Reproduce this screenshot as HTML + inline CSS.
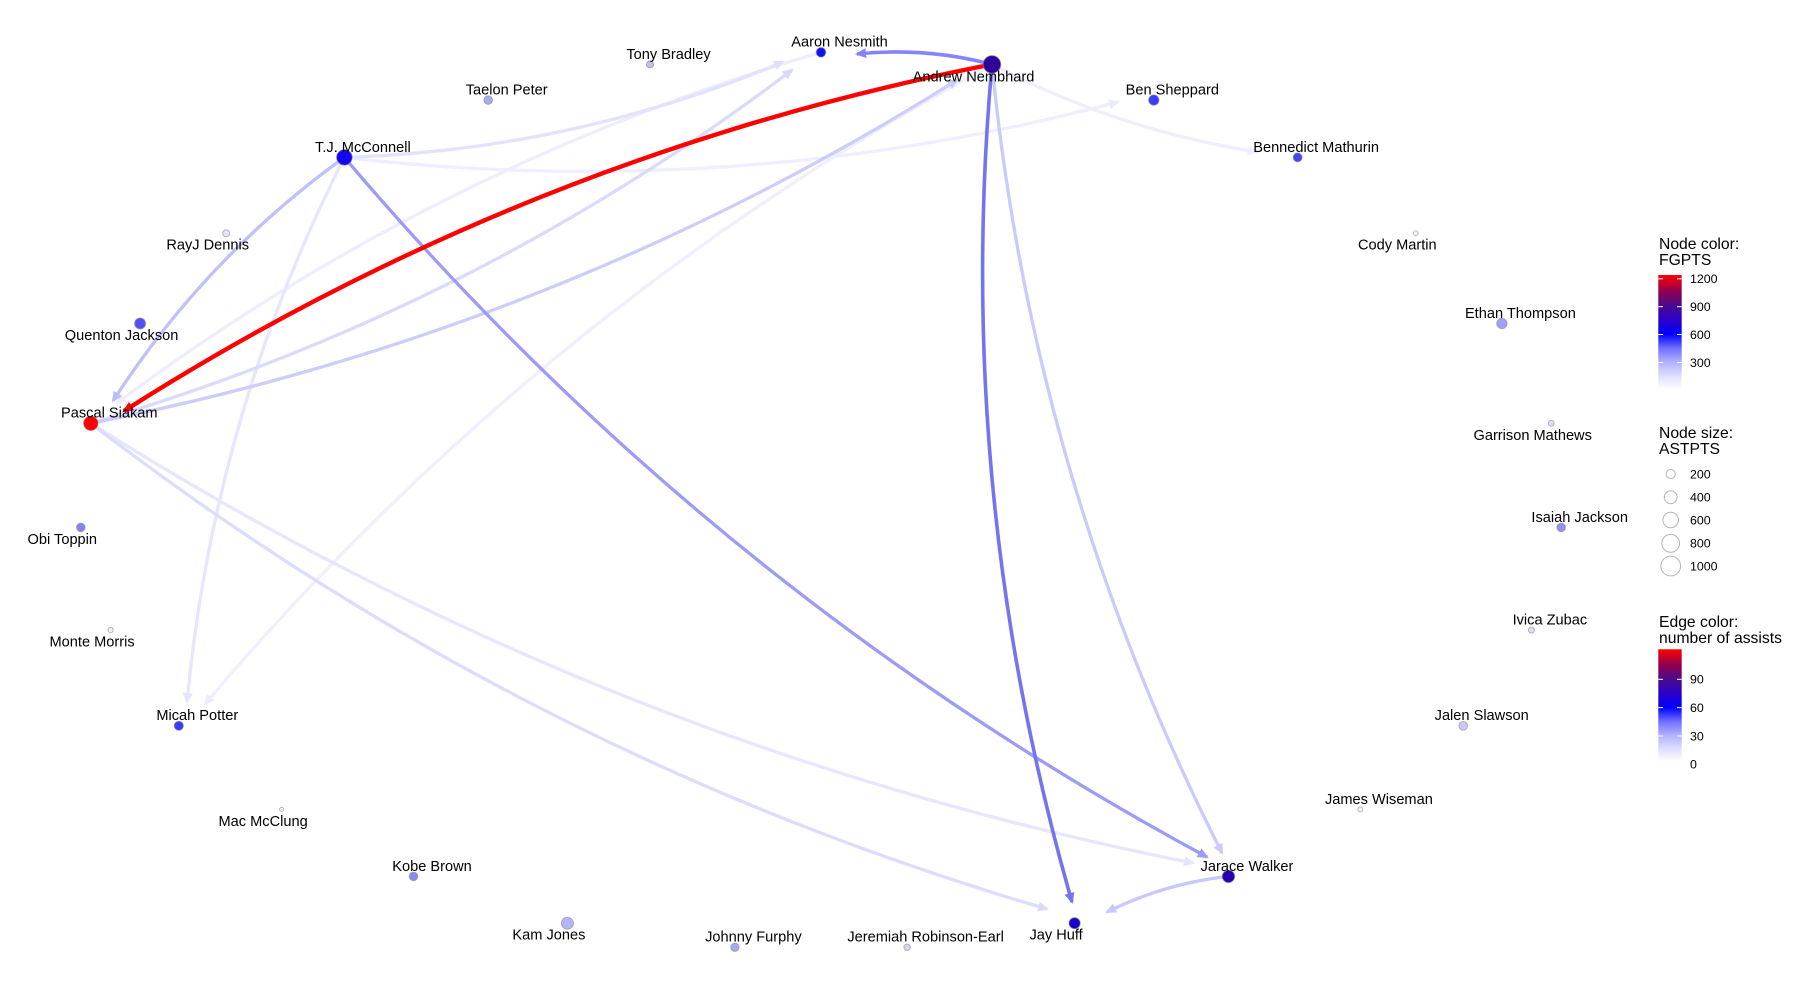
<!DOCTYPE html>
<html><head><meta charset="utf-8"><style>
html,body{margin:0;padding:0;background:#fff;}
svg{display:block;}
text{font-family:"Liberation Sans",Arial,sans-serif;fill:#000;}
.lb{font-size:14.6px;text-anchor:middle;}
.lt{font-size:15.7px;}
.tk{font-size:12.4px;}
</style></head><body>
<svg width="1800" height="1000" viewBox="0 0 1800 1000" xmlns="http://www.w3.org/2000/svg">
<rect x="0" y="0" width="1800" height="1000" fill="#fff"/>
<defs>
<marker id="a1" viewBox="0 0 11 10" refX="9" refY="5" markerWidth="11" markerHeight="10" markerUnits="userSpaceOnUse" orient="auto"><path d="M0,0 L11,5 L0,10 z" fill="#8484ff"/></marker>
<marker id="a2" viewBox="0 0 11 10" refX="9" refY="5" markerWidth="11" markerHeight="10" markerUnits="userSpaceOnUse" orient="auto"><path d="M0,0 L11,5 L0,10 z" fill="#ff0000"/></marker>
<marker id="a3" viewBox="0 0 11 10" refX="9" refY="5" markerWidth="11" markerHeight="10" markerUnits="userSpaceOnUse" orient="auto"><path d="M0,0 L11,5 L0,10 z" fill="#7474f0"/></marker>
<marker id="a4" viewBox="0 0 11 10" refX="9" refY="5" markerWidth="11" markerHeight="10" markerUnits="userSpaceOnUse" orient="auto"><path d="M0,0 L11,5 L0,10 z" fill="#cacafc"/></marker>
<marker id="a5" viewBox="0 0 11 10" refX="9" refY="5" markerWidth="11" markerHeight="10" markerUnits="userSpaceOnUse" orient="auto"><path d="M0,0 L11,5 L0,10 z" fill="#eeeefe"/></marker>
<marker id="a6" viewBox="0 0 11 10" refX="9" refY="5" markerWidth="11" markerHeight="10" markerUnits="userSpaceOnUse" orient="auto"><path d="M0,0 L11,5 L0,10 z" fill="#ececfe"/></marker>
<marker id="a7" viewBox="0 0 11 10" refX="9" refY="5" markerWidth="11" markerHeight="10" markerUnits="userSpaceOnUse" orient="auto"><path d="M0,0 L11,5 L0,10 z" fill="#e0e0fd"/></marker>
<marker id="a8" viewBox="0 0 11 10" refX="9" refY="5" markerWidth="11" markerHeight="10" markerUnits="userSpaceOnUse" orient="auto"><path d="M0,0 L11,5 L0,10 z" fill="#eaeaff"/></marker>
<marker id="a9" viewBox="0 0 11 10" refX="9" refY="5" markerWidth="11" markerHeight="10" markerUnits="userSpaceOnUse" orient="auto"><path d="M0,0 L11,5 L0,10 z" fill="#bdbdfb"/></marker>
<marker id="a10" viewBox="0 0 11 10" refX="9" refY="5" markerWidth="11" markerHeight="10" markerUnits="userSpaceOnUse" orient="auto"><path d="M0,0 L11,5 L0,10 z" fill="#9c9cf8"/></marker>
<marker id="a11" viewBox="0 0 11 10" refX="9" refY="5" markerWidth="11" markerHeight="10" markerUnits="userSpaceOnUse" orient="auto"><path d="M0,0 L11,5 L0,10 z" fill="#e4e4fd"/></marker>
<marker id="a12" viewBox="0 0 11 10" refX="9" refY="5" markerWidth="11" markerHeight="10" markerUnits="userSpaceOnUse" orient="auto"><path d="M0,0 L11,5 L0,10 z" fill="#cdcdfb"/></marker>
<marker id="a13" viewBox="0 0 11 10" refX="9" refY="5" markerWidth="11" markerHeight="10" markerUnits="userSpaceOnUse" orient="auto"><path d="M0,0 L11,5 L0,10 z" fill="#d8d8fc"/></marker>
<marker id="a14" viewBox="0 0 11 10" refX="9" refY="5" markerWidth="11" markerHeight="10" markerUnits="userSpaceOnUse" orient="auto"><path d="M0,0 L11,5 L0,10 z" fill="#ededfe"/></marker>
<marker id="a15" viewBox="0 0 11 10" refX="9" refY="5" markerWidth="11" markerHeight="10" markerUnits="userSpaceOnUse" orient="auto"><path d="M0,0 L11,5 L0,10 z" fill="#e4e4fd"/></marker>
<marker id="a16" viewBox="0 0 11 10" refX="9" refY="5" markerWidth="11" markerHeight="10" markerUnits="userSpaceOnUse" orient="auto"><path d="M0,0 L11,5 L0,10 z" fill="#dadafc"/></marker>
<marker id="a17" viewBox="0 0 11 10" refX="9" refY="5" markerWidth="11" markerHeight="10" markerUnits="userSpaceOnUse" orient="auto"><path d="M0,0 L11,5 L0,10 z" fill="#c8c8fb"/></marker>
<linearGradient id="g1" x1="0" y1="1" x2="0" y2="0">
<stop offset="0" stop-color="#ffffff"/>
<stop offset="0.12" stop-color="#dcdcff"/>
<stop offset="0.24" stop-color="#afafff"/>
<stop offset="0.36" stop-color="#6e6eff"/>
<stop offset="0.483" stop-color="#0000ff"/>
<stop offset="0.6" stop-color="#2a00cc"/>
<stop offset="0.725" stop-color="#480a90"/>
<stop offset="0.86" stop-color="#900050"/>
<stop offset="1" stop-color="#ff0000"/>
</linearGradient>
</defs>

<!-- edges -->
<g fill="none" stroke-linecap="butt">
<path d="M992,64.4 Q1117.8,130 1256.8,151.9" stroke="#eeeefe" stroke-width="3.3" marker-end="url(#a5)"/>
<path d="M344.4,157.4 Q736.5,202.7 1118,102" stroke="#eeeeff" stroke-width="3.3" marker-end="url(#a8)"/>
<path d="M992,64.4 Q538.4,310.4 205,704" stroke="#efeffe" stroke-width="3.3" marker-end="url(#a6)"/>
<path d="M821,52.3 Q437,164.5 117,403" stroke="#ededfe" stroke-width="3.3" marker-end="url(#a14)"/>
<path d="M344.4,157.4 Q214.1,414.5 187,702" stroke="#e6e6fd" stroke-width="3.3" marker-end="url(#a11)"/>
<path d="M344.4,157.4 Q572.7,150.2 783,62" stroke="#e2e2fd" stroke-width="3.3" marker-end="url(#a7)"/>
<path d="M90.8,423.3 Q600.8,746.5 1193,863" stroke="#e6e6fd" stroke-width="3.3" marker-end="url(#a15)"/>
<path d="M90.8,423.3 Q523.2,756.1 1047,909" stroke="#dcdcfc" stroke-width="3.3" marker-end="url(#a16)"/>
<path d="M90.8,423.3 Q474.2,311.3 792,70" stroke="#dadafc" stroke-width="3.3" marker-end="url(#a13)"/>
<path d="M90.8,423.3 Q556,332.3 957,80" stroke="#cdcdfb" stroke-width="3.3" marker-end="url(#a12)"/>
<path d="M992,64.4 Q1032.7,480.2 1222,853" stroke="#cacafc" stroke-width="3.3" marker-end="url(#a4)"/>
<path d="M1228.5,876.4 Q1164.5,883.4 1107,912" stroke="#c8c8fb" stroke-width="3.3" marker-end="url(#a17)"/>
<path d="M344.4,157.4 Q205.7,257.1 113,401" stroke="#c0c0fb" stroke-width="3.3" marker-end="url(#a9)"/>
<path d="M344.4,157.4 Q709.4,588.7 1207,857" stroke="#9c9cf8" stroke-width="3.3" marker-end="url(#a10)"/>
<path d="M992,64.4 Q925.3,46.9 857,54" stroke="#8484ff" stroke-width="3.6" marker-end="url(#a1)"/>
<path d="M992,64.4 Q953.6,490.7 1072,902" stroke="#7474f0" stroke-width="3.6" marker-end="url(#a3)"/>
<path d="M992,64.4 Q525.4,155.6 124,411" stroke="#ff0000" stroke-width="4.4" marker-end="url(#a2)"/>
</g>

<!-- nodes -->
<g stroke="#8a8a8a" stroke-opacity="0.6" stroke-width="1">
<circle cx="821" cy="52.3" r="4.8" fill="#1010ff"/>
<circle cx="992" cy="64.4" r="8.8" fill="#30009c"/>
<circle cx="1153.8" cy="100.1" r="5.2" fill="#3c3cff"/>
<circle cx="1297.6" cy="157.4" r="4.5" fill="#4646f8"/>
<circle cx="1415.8" cy="233.2" r="2.4" fill="#f6f6ff"/>
<circle cx="1501.9" cy="323.5" r="5.2" fill="#a0a0fa"/>
<circle cx="1551.2" cy="423.3" r="3" fill="#dcdcf6"/>
<circle cx="1561.2" cy="527.4" r="4.3" fill="#9292f6"/>
<circle cx="1531.4" cy="630.1" r="3" fill="#dcdcf6"/>
<circle cx="1463.2" cy="725.8" r="4.3" fill="#cacaf6"/>
<circle cx="1360.4" cy="809.4" r="2.5" fill="#f2f2fc"/>
<circle cx="1228.5" cy="876.4" r="6.2" fill="#2800b4"/>
<circle cx="1074.6" cy="923.2" r="5.6" fill="#1c00cc"/>
<circle cx="907.1" cy="947.3" r="3.2" fill="#d8d8f6"/>
<circle cx="734.9" cy="947.3" r="4.2" fill="#a8a8f4"/>
<circle cx="567.4" cy="923.2" r="6" fill="#b4b4f8"/>
<circle cx="413.5" cy="876.4" r="4.3" fill="#8a8af2"/>
<circle cx="281.6" cy="809.4" r="2" fill="#f4f4fc"/>
<circle cx="178.8" cy="725.8" r="4.6" fill="#3a3aff"/>
<circle cx="110.6" cy="630.1" r="2.6" fill="#f2f2fc"/>
<circle cx="80.8" cy="527.4" r="4.3" fill="#8282f4"/>
<circle cx="90.8" cy="423.3" r="7.2" fill="#ff0000"/>
<circle cx="140.1" cy="323.5" r="5.5" fill="#5050fa"/>
<circle cx="226.2" cy="233.2" r="3.5" fill="#e4e4f8"/>
<circle cx="344.4" cy="157.4" r="7.8" fill="#1406f4"/>
<circle cx="488.2" cy="100.1" r="4.3" fill="#aaaaee"/>
<circle cx="650" cy="64.4" r="3.6" fill="#c0c0ee"/>
</g>

<!-- labels -->
<g>
<text class="lb" x="839.5" y="46.7">Aaron Nesmith</text>
<text class="lb" x="973.5" y="81.7">Andrew Nembhard</text>
<text class="lb" x="1172.3" y="94.5">Ben Sheppard</text>
<text class="lb" x="1316.1" y="151.8">Bennedict Mathurin</text>
<text class="lb" x="1397.3" y="249.7">Cody Martin</text>
<text class="lb" x="1520.4" y="317.9">Ethan Thompson</text>
<text class="lb" x="1532.7" y="439.8">Garrison Mathews</text>
<text class="lb" x="1579.7" y="521.8">Isaiah Jackson</text>
<text class="lb" x="1549.9" y="624.5">Ivica Zubac</text>
<text class="lb" x="1481.7" y="720.2">Jalen Slawson</text>
<text class="lb" x="1378.9" y="803.8">James Wiseman</text>
<text class="lb" x="1247" y="870.8">Jarace Walker</text>
<text class="lb" x="1056.1" y="939.7">Jay Huff</text>
<text class="lb" x="925.6" y="941.7">Jeremiah Robinson-Earl</text>
<text class="lb" x="753.4" y="941.7">Johnny Furphy</text>
<text class="lb" x="548.9" y="939.7">Kam Jones</text>
<text class="lb" x="432" y="870.8">Kobe Brown</text>
<text class="lb" x="263.1" y="825.9">Mac McClung</text>
<text class="lb" x="197.3" y="720.2">Micah Potter</text>
<text class="lb" x="92.1" y="646.6">Monte Morris</text>
<text class="lb" x="62.3" y="543.9">Obi Toppin</text>
<text class="lb" x="109.3" y="417.7">Pascal Siakam</text>
<text class="lb" x="121.6" y="340">Quenton Jackson</text>
<text class="lb" x="207.7" y="249.7">RayJ Dennis</text>
<text class="lb" x="362.9" y="151.8">T.J. McConnell</text>
<text class="lb" x="506.7" y="94.5">Taelon Peter</text>
<text class="lb" x="668.5" y="58.8">Tony Bradley</text>
</g>

<!-- legend: node color -->
<text class="lt" x="1659" y="249">Node color:</text>
<text class="lt" x="1659" y="265">FGPTS</text>
<rect x="1658.3" y="275" width="23.4" height="114" fill="url(#g1)"/>
<g stroke="#fff" stroke-width="1">
<line x1="1658.3" y1="278.8" x2="1663" y2="278.8"/><line x1="1677" y1="278.8" x2="1681.7" y2="278.8"/>
<line x1="1658.3" y1="306.7" x2="1663" y2="306.7"/><line x1="1677" y1="306.7" x2="1681.7" y2="306.7"/>
<line x1="1658.3" y1="334.5" x2="1663" y2="334.5"/><line x1="1677" y1="334.5" x2="1681.7" y2="334.5"/>
<line x1="1658.3" y1="362.5" x2="1663" y2="362.5"/><line x1="1677" y1="362.5" x2="1681.7" y2="362.5"/>
</g>
<text class="tk" x="1690" y="283.2">1200</text>
<text class="tk" x="1690" y="311.1">900</text>
<text class="tk" x="1690" y="338.9">600</text>
<text class="tk" x="1690" y="366.9">300</text>

<!-- legend: node size -->
<text class="lt" x="1659" y="438">Node size:</text>
<text class="lt" x="1659" y="454">ASTPTS</text>
<g fill="#fff" stroke="#b5b5b5" stroke-width="1">
<circle cx="1670.7" cy="474" r="4.6"/>
<circle cx="1670.7" cy="497.3" r="6.4"/>
<circle cx="1670.7" cy="520" r="7.8"/>
<circle cx="1670.7" cy="543.3" r="8.9"/>
<circle cx="1670.7" cy="566" r="9.9"/>
</g>
<text class="tk" x="1690" y="478.4">200</text>
<text class="tk" x="1690" y="501.7">400</text>
<text class="tk" x="1690" y="524.4">600</text>
<text class="tk" x="1690" y="547.7">800</text>
<text class="tk" x="1690" y="570.4">1000</text>

<!-- legend: edge color -->
<text class="lt" x="1659" y="627">Edge color:</text>
<text class="lt" x="1659" y="643">number of assists</text>
<rect x="1658.3" y="649.3" width="23.4" height="112.4" fill="url(#g1)"/>
<g stroke="#fff" stroke-width="1">
<line x1="1658.3" y1="679.3" x2="1663" y2="679.3"/><line x1="1677" y1="679.3" x2="1681.7" y2="679.3"/>
<line x1="1658.3" y1="707.6" x2="1663" y2="707.6"/><line x1="1677" y1="707.6" x2="1681.7" y2="707.6"/>
<line x1="1658.3" y1="736" x2="1663" y2="736"/><line x1="1677" y1="736" x2="1681.7" y2="736"/>
</g>
<text class="tk" x="1690" y="683.7">90</text>
<text class="tk" x="1690" y="712">60</text>
<text class="tk" x="1690" y="740.4">30</text>
<text class="tk" x="1690" y="768.4">0</text>
</svg>
</body></html>
